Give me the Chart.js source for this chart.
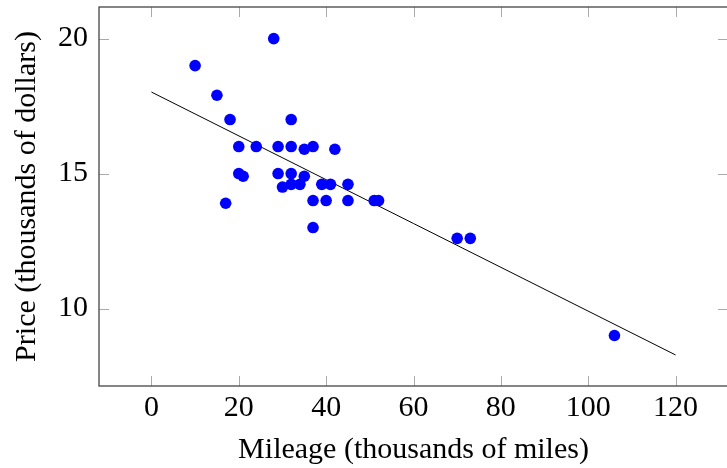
<!DOCTYPE html>
<html>
<head>
<meta charset="utf-8">
<script src="https://cdn.jsdelivr.net/npm/chart.js@4"></script>
<style>
  html, body { margin: 0; padding: 0; background: #fff; overflow: hidden; }
  #wrap { position: relative; width: 745px; height: 468px; }
</style>
</head>
<body>
<div id="wrap"><canvas id="chart"></canvas></div>
<script>
// Scatter data
const mileage = [10, 15, 17, 18, 20, 20, 21, 24, 28, 29, 29, 30, 32, 32, 32, 32, 34, 35, 35, 37, 37, 37, 39, 40, 41, 42, 45, 45, 51, 52, 70, 73, 106];
const price = [19, 17.9, 13.9, 17, 16, 15, 14.9, 16, 20, 16, 15, 14.5, 17, 16, 15, 14.6, 14.6, 15.9, 14.9, 16, 14, 13, 14.6, 14, 14.6, 15.9, 14.6, 14, 14, 14, 12.6, 12.6, 9];

// Fitted line end points
const fitX = [0, 120];
const fitY = [18.02, 8.28];

const xTicks = [0, 20, 40, 60, 80, 100, 120];
const yTicks = [10, 15, 20];

const font = { family: '"Liberation Serif", "Times New Roman", serif', size: 30 };

// pgfplots style frame with inward ticks on all sides
const framePlugin = {
    id: 'frame',
    afterDatasetsDraw(chart) {
        const { ctx, chartArea: a, scales } = chart;
        const len = 10;
        ctx.save();
        ctx.strokeStyle = '#aaa';
        ctx.lineWidth = 1;
        ctx.beginPath();
        for (const v of xTicks) {
            const px = Math.round(scales.x.getPixelForValue(v)) + 0.5;
            ctx.moveTo(px, a.bottom); ctx.lineTo(px, a.bottom - len);
            ctx.moveTo(px, a.top); ctx.lineTo(px, a.top + len);
        }
        for (const v of yTicks) {
            const py = Math.round(scales.y.getPixelForValue(v)) + 0.5;
            ctx.moveTo(a.left, py); ctx.lineTo(a.left + len, py);
            ctx.moveTo(a.right, py); ctx.lineTo(a.right - len, py);
        }
        ctx.stroke();
        ctx.strokeStyle = '#444';
        ctx.lineWidth = 1.3;
        ctx.strokeRect(a.left, a.top, a.right - a.left, a.bottom - a.top);
        ctx.restore();
    }
};

const ctx = document.getElementById('chart').getContext('2d');
new Chart(ctx, {
    data: {
        datasets: [{
            type: 'scatter',
            data: mileage.map((m, i) => ({ x: m, y: price[i] })),
            backgroundColor: '#0000ff',
            borderWidth: 0,
            pointRadius: 5.8,
            pointHoverRadius: 5.8
        }, {
            type: 'line',
            data: fitX.map((x, i) => ({ x: x, y: fitY[i] })),
            borderColor: '#000',
            borderWidth: 1,
            pointRadius: 0,
            fill: false
        }]
    },
    options: {
        responsive: true,
        maintainAspectRatio: false,
        animation: false,
        layout: { padding: { top: 7, right: 17, left: 0, bottom: 0 } },
        plugins: { legend: { display: false }, tooltip: { enabled: false } },
        scales: {
            x: {
                type: 'linear',
                min: -12,
                max: 132,
                afterFit(scale) {
                    scale.height = 82;
                    scale.paddingLeft = 0;
                    scale.paddingRight = 0;
                },
                afterBuildTicks(scale) { scale.ticks = xTicks.map(v => ({ value: v })); },
                grid: { display: false, drawTicks: false },
                border: { display: false },
                ticks: { color: '#000', font: font, padding: 4, maxRotation: 0 },
                title: { display: true, text: 'Mileage (thousands of miles)', color: '#000', font: font, padding: { top: 2, bottom: 0 } }
            },
            y: {
                type: 'linear',
                min: 7.13,
                max: 21.17,
                afterFit(scale) {
                    scale.width = 99;
                    scale.paddingTop = 0;
                    scale.paddingBottom = 0;
                },
                afterBuildTicks(scale) { scale.ticks = yTicks.map(v => ({ value: v })); },
                grid: { display: false, drawTicks: false },
                border: { display: false },
                ticks: { color: '#000', font: font, padding: 11 },
                title: { display: true, text: 'Price (thousands of dollars)', color: '#000', font: font, padding: { top: 9, bottom: 0 } }
            }
        }
    },
    plugins: [framePlugin]
});
</script>
</body>
</html>
